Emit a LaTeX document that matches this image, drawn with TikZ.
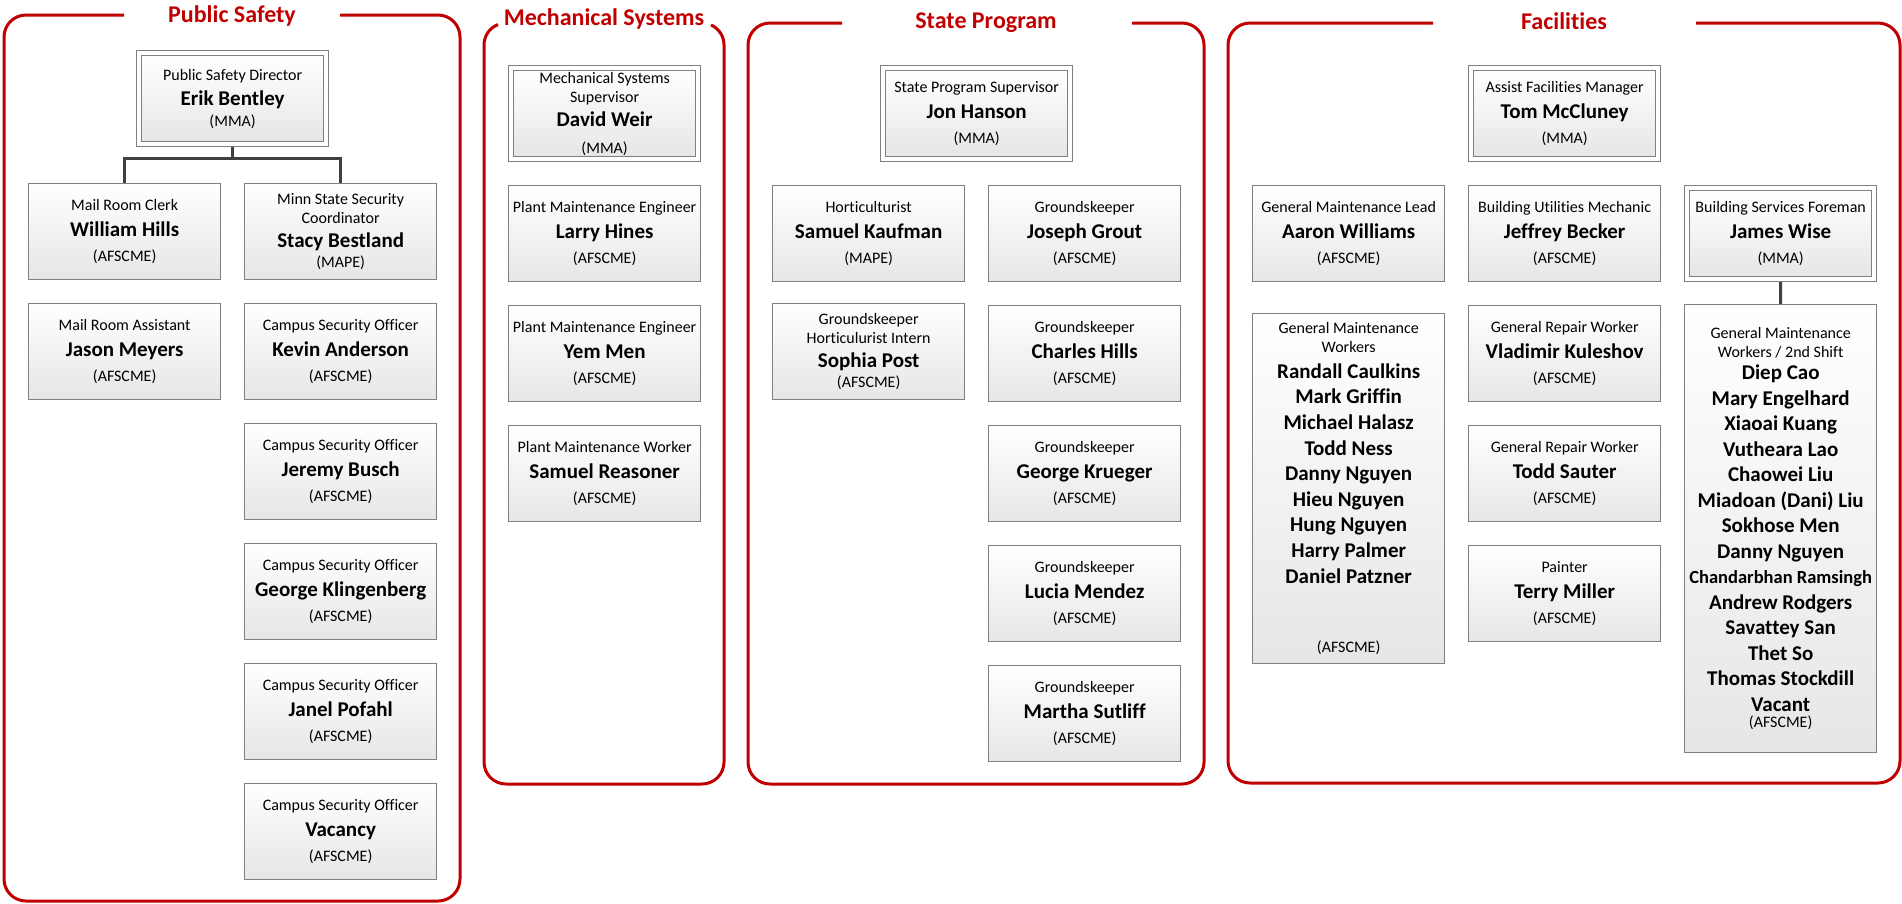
\documentclass[tikz,border=0pt]{standalone}
\usepackage{fontspec}
\setmainfont{Carlito}[Ligatures=NoCommon]
\definecolor{frred}{RGB}{192,0,0}
\definecolor{cardline}{RGB}{128,128,128}
\definecolor{cardbot}{RGB}{230,230,230}
\definecolor{connc}{RGB}{64,64,64}
\newcommand\cardfont{\fontsize{16}{19}\selectfont\lineskiplimit=-100pt\relax\lineskip=0pt\relax}
\newcommand\nm[1]{{\fontsize{21}{21}\selectfont\bfseries #1}}
\newcommand\nms[1]{{\fontsize{18.5}{18.5}\selectfont\bfseries #1}}
\newcommand\std[3]{#1\\[6.5pt]\nm{#2}\\[6.5pt]#3}
\newcommand\card[4]{\node[card] (#1) at (#2,#3) {#4};}
\newcommand\dcard[4]{\node[outcard] (#1o) at (#2,#3) {};\node[incard] (#1) at ({#2+5},{#3+5}) {#4};}
\tikzset{
  card/.style={draw=cardline, line width=1.3pt, top color=white, bottom color=cardbot,
    minimum width=192pt, minimum height=96pt, inner sep=0pt, anchor=north west, align=center,
    font=\cardfont},
  incard/.style={card, minimum width=182pt, minimum height=86pt},
  outcard/.style={draw=cardline, line width=1pt, fill=white, minimum width=192pt,
    minimum height=96pt, inner sep=0pt, anchor=north west},
  frame/.style={draw=frred, line width=3pt},
  rframe/.style={frame, rounded corners=22pt},
  title/.style={text=frred, font=\fontsize{24}{28}\selectfont\bfseries, anchor=base, inner sep=0pt},
  conn/.style={draw=connc, line width=3pt},
}
\begin{document}
\begin{tikzpicture}[x=1pt,y=-1pt]
\useasboundingbox (0,0) rectangle (1902,903);

% ---------- frames ----------
\draw[rframe] (340,15) -- (460,15) -- (460,901) -- (4,901) -- (4,15) -- (124,15);
\draw[frame] (711,24.93) arc[start angle=294.1, end angle=360, radius=22] -- (724,762)
  arc[start angle=0, end angle=90, radius=22] -- (506,784)
  arc[start angle=90, end angle=180, radius=22] -- (484,45)
  arc[start angle=180, end angle=248.7, radius=22];
\draw[rframe] (1132,23) -- (1204,23) -- (1204,784) -- (748,784) -- (748,23) -- (842,23);
\draw[rframe] (1696,23) -- (1900,23) -- (1900,783) -- (1228,783) -- (1228,23) -- (1433,23);

\node[title] (tps) at (232,22) {Public Safety};
\node[title] (tms) at (604,25) {Mechanical Systems};
\node[title] (tsp) at (986,28) {State Program};
\node[title] (tfa) at (1564,29) {Facilities};

% ---------- Public Safety ----------
\dcard{psd}{136}{50}{Public Safety Director\\[6.5pt]\nm{Erik Bentley}\\[1.5pt](MMA)}
\card{wh}{28}{183}{\std{Mail Room Clerk}{William Hills}{(AFSCME)}}
\card{sb}{244}{183}{Minn State Security\\Coordinator\\[5pt]\nm{Stacy Bestland}\\[1.5pt](MAPE)}
\card{jm}{28}{303}{\std{Mail Room Assistant}{Jason Meyers}{(AFSCME)}}
\card{ka}{244}{303}{\std{Campus Security Officer}{Kevin Anderson}{(AFSCME)}}
\card{jb}{244}{423}{\std{Campus Security Officer}{Jeremy Busch}{(AFSCME)}}
\card{gk}{244}{543}{\std{Campus Security Officer}{George Klingenberg}{(AFSCME)}}
\card{jp}{244}{663}{\std{Campus Security Officer}{Janel Pofahl}{(AFSCME)}}
\card{vc}{244}{783}{\std{Campus Security Officer}{Vacancy}{(AFSCME)}}

\draw[conn] (psdo.south) -- ++(0,11) coordinate (psj);
\draw[conn] (psj) -| (wh.north);
\draw[conn] (psj) -| (sb.north);

% ---------- Mechanical Systems ----------
\dcard{dw}{508}{65}{Mechanical Systems\\Supervisor\\[5.5pt]\nm{David Weir}\\[7.5pt](MMA)}
\card{lh}{508}{185}{\std{Plant Maintenance Engineer}{Larry Hines}{(AFSCME)}}
\card{ym}{508}{305}{\std{Plant Maintenance Engineer}{Yem Men}{(AFSCME)}}
\card{sr}{508}{425}{\std{Plant Maintenance Worker}{Samuel Reasoner}{(AFSCME)}}

% ---------- State Program ----------
\dcard{jh}{880}{65}{\std{State Program Supervisor}{Jon Hanson}{(MMA)}}
\card{sk}{772}{185}{\std{Horticulturist}{Samuel Kaufman}{(MAPE)}}
\card{sp}{772}{303}{Groundskeeper\\Horticulurist Intern\\[4.5pt]\nm{Sophia Post}\\[1pt](AFSCME)}
\card{jg}{988}{185}{\std{Groundskeeper}{Joseph Grout}{(AFSCME)}}
\card{ch}{988}{305}{\std{Groundskeeper}{Charles Hills}{(AFSCME)}}
\card{gkr}{988}{425}{\std{Groundskeeper}{George Krueger}{(AFSCME)}}
\card{lm}{988}{545}{\std{Groundskeeper}{Lucia Mendez}{(AFSCME)}}
\card{ms}{988}{665}{\std{Groundskeeper}{Martha Sutliff}{(AFSCME)}}

% ---------- Facilities ----------
\dcard{tm}{1468}{65}{\std{Assist Facilities Manager}{Tom McCluney}{(MMA)}}
\card{aw}{1252}{185}{\std{General Maintenance Lead}{Aaron Williams}{(AFSCME)}}
\card{jbe}{1468}{185}{\std{Building Utilities Mechanic}{Jeffrey Becker}{(AFSCME)}}
\dcard{jw}{1684}{185}{\std{Building Services Foreman}{James Wise}{(MMA)}}
\node[card, minimum height=350pt] (gmw) at (1252,313) {General Maintenance\\Workers\\[6.5pt]%
\nm{Randall Caulkins}\\[6.6pt]\nm{Mark Griffin}\\[6.6pt]\nm{Michael Halasz}\\[6.6pt]%
\nm{Todd Ness}\\[6.6pt]\nm{Danny Nguyen}\\[6.6pt]\nm{Hieu Nguyen}\\[6.6pt]%
\nm{Hung Nguyen}\\[6.6pt]\nm{Harry Palmer}\\[6.6pt]\nm{Daniel Patzner}\\[50.5pt](AFSCME)};
\card{vk}{1468}{305}{\std{General Repair Worker}{Vladimir Kuleshov}{(AFSCME)}}
\card{ts}{1468}{425}{\std{General Repair Worker}{Todd Sauter}{(AFSCME)}}
\card{tmi}{1468}{545}{\std{Painter}{Terry Miller}{(AFSCME)}}
\node[card, minimum height=448pt] (gm2) at (1684,304) {General Maintenance\\Workers / 2nd Shift\\[3.5pt]%
\nm{Diep Cao}\\[6.5pt]\nm{Mary Engelhard}\\[6.5pt]\nm{Xiaoai Kuang}\\[6.5pt]\nm{Vutheara Lao}\\[6.5pt]%
\nm{Chaowei Liu}\\[6.5pt]\nm{Miadoan (Dani) Liu}\\[6.5pt]\nm{Sokhose Men}\\[6.5pt]\nm{Danny Nguyen}\\[6.5pt]%
\nms{Chandarbhan Ramsingh}\\[6.5pt]\nm{Andrew Rodgers}\\[6.5pt]\nm{Savattey San}\\[6.5pt]\nm{Thet So}\\[6.5pt]%
\nm{Thomas Stockdill}\\[6.5pt]\nm{Vacant}\\[-2.5pt](AFSCME)};

\draw[conn] (jwo.south) -- (gm2.north);
\end{tikzpicture}
\end{document}
